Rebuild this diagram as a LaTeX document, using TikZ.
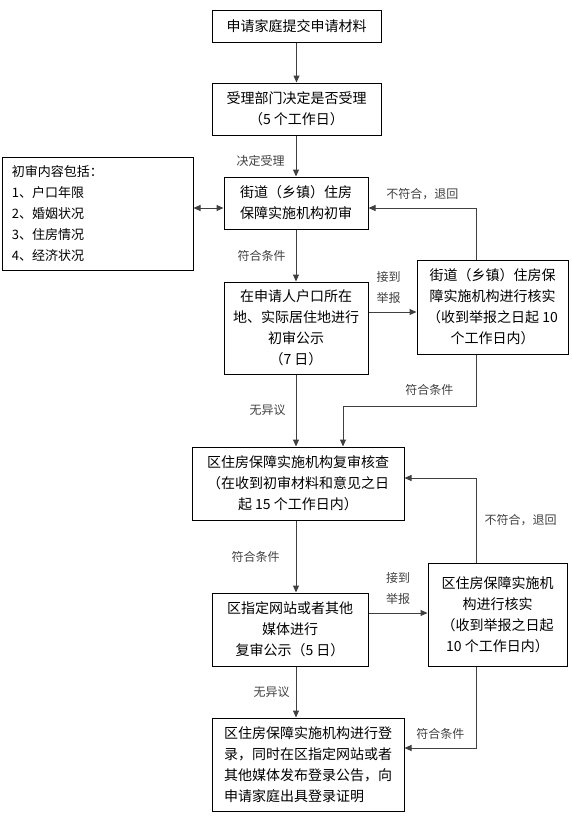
\documentclass[tikz,border=0pt]{standalone}
\usepackage{fontspec}
\setmainfont{Noto Sans CJK SC}
\usetikzlibrary{arrows.meta}

\begin{document}
\begin{tikzpicture}[x=1pt,y=-1pt,
  box/.style={draw,line width=1pt,inner sep=0pt,align=center,font=\fontsize{14}{21}\selectfont},
  lbl/.style={inner sep=0pt,font=\fontsize{12}{21}\selectfont},
  arr/.style={line width=1pt,black!75,-{Triangle[length=7pt,width=6pt]}},
  dbl/.style={line width=1pt,black!75,{Triangle[length=7pt,width=6pt]}-{Triangle[length=7pt,width=6pt]}}]
\useasboundingbox (0,0) rectangle (572,822);

% boxes
\node[box,minimum width=169pt,minimum height=32pt] (apply) at (296.5,26) {申请家庭提交申请材料};
\node[box,minimum width=169pt,minimum height=52pt] (accept) at (296.5,109) {受理部门决定是否受理\\（5 个工作日）};
\node[box,align=left,text width=171pt,minimum width=191pt,minimum height=113pt,
  font=\fontsize{13}{21}\selectfont] (content) at (97.5,213.5)
  {初审内容包括：\\1、户口年限\\2、婚姻状况\\3、住房情况\\4、经济状况};
\node[box,minimum width=144pt,minimum height=52pt] (street) at (296,203) {街道（乡镇）住房\\保障实施机构初审};
\node[box,minimum width=144pt,minimum height=92pt] (notice) at (296,328) {在申请人户口所在\\地、实际居住地进行\\初审公示\\（7 日）};
\node[box,minimum width=151pt,minimum height=94pt] (check1) at (492.5,307) {街道（乡镇）住房保\\障实施机构进行核实\\（收到举报之日起 10\\个工作日内）};
\node[box,minimum width=212pt,minimum height=73pt] (review) at (298,483.5) {区住房保障实施机构复审核查\\（在收到初审材料和意见之日\\起 15 个工作日内）};
\node[box,minimum width=156pt,minimum height=73pt] (publish) at (290,629.5) {区指定网站或者其他\\媒体进行\\复审公示（5 日）};
\node[box,minimum width=139pt,minimum height=103pt] (check2) at (497.5,614.5) {区住房保障实施机\\构进行核实\\（收到举报之日起\\10 个工作日内）};
\node[box,align=left,minimum width=192pt,minimum height=93pt] (record) at (308,764.5) {区住房保障实施机构进行登\\录，同时在区指定网站或者\\其他媒体发布登录公告，向\\申请家庭出具登录证明};

% bends
\coordinate (col) at (296,0);
\coordinate (lk) at (210,208);
\coordinate (rep1) at (390,312);
\coordinate (up1) at (476,208);
\coordinate (dn1) at (476,406);
\coordinate (dn1b) at (343,406);
\coordinate (up2) at (476,478);
\coordinate (rep2) at (400,613);
\coordinate (dn2) at (476,748);

% connectors
\draw[arr] (apply) -- (accept);
\draw[arr] (accept.south -| col) -- (col |- street.north)
  node[lbl,midway,left=11pt,yshift=-5pt] {决定受理};
\draw[dbl] (lk -| street.west) -- (lk -| content.east);
\draw[arr] (street.south -| col) -- (col |- notice.north)
  node[lbl,midway,left=10pt] {符合条件};
\draw[arr] (rep1 -| notice.east) -- (rep1 -| check1.west)
  node[lbl,midway,above=8pt,xshift=-4pt,align=center] {接到\\举报};
\draw[arr] (check1.north -| up1) -- (up1) -- (up1 -| street.east)
  node[lbl,midway,above=8pt] {不符合，退回};
\draw[arr] (check1.south -| dn1) -- (dn1) -- (dn1b)
  node[lbl,pos=0.35,above=10pt] {符合条件} -- (dn1b |- review.north);
\draw[arr] (notice.south -| col) -- (col |- review.north)
  node[lbl,midway,left=10pt] {无异议};

\draw[arr] (review.south -| col) -- (col |- publish.north)
  node[lbl,midway,left=16pt] {符合条件};
\draw[arr] (rep2 -| publish.east) -- (rep2 -| check2.west)
  node[lbl,midway,above=8pt,align=center] {接到\\举报};
\draw[arr] (check2.north -| up2) -- (up2)
  node[lbl,midway,right=8pt] {不符合，退回} -- (up2 -| review.east);
\draw[arr] (check2.south -| dn2) -- (dn2) -- (dn2 -| record.east)
  node[lbl,midway,above=8pt] {符合条件};
\draw[arr] (publish.south -| col) -- (col |- record.north)
  node[lbl,midway,left=6pt] {无异议};
\end{tikzpicture}
\end{document}
